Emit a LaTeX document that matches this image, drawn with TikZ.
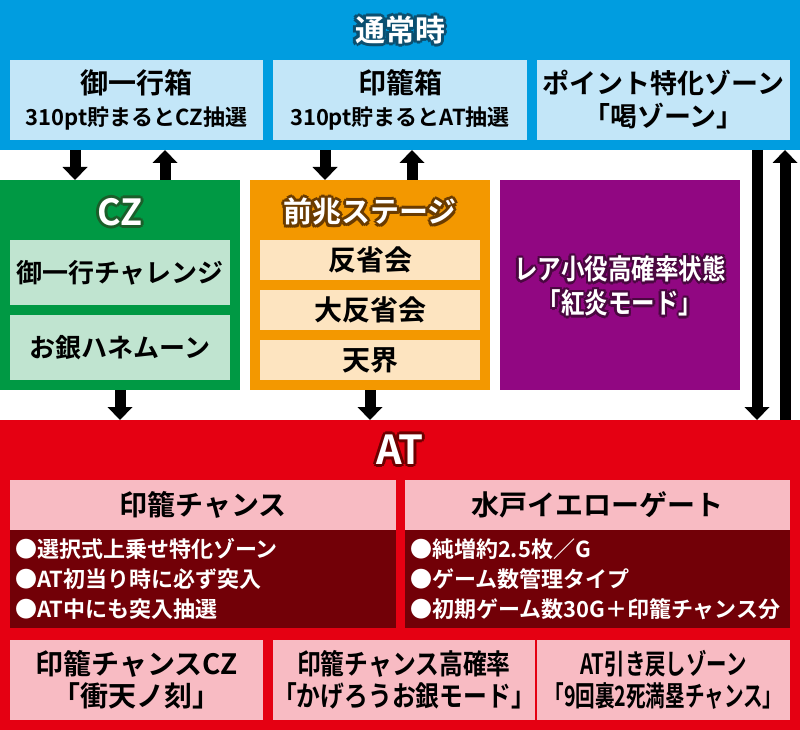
\documentclass[tikz,border=0pt]{standalone}
\usepackage{fontspec}
\setmainfont{Noto Sans CJK JP}[BoldFont=* Bold]
\usepackage{graphicx}
\usetikzlibrary{arrows.meta,calc}
\definecolor{cBlue}{HTML}{009DE0}
\definecolor{cLBlue}{HTML}{C3E6F8}
\definecolor{cBlueD}{HTML}{0B4F70}
\definecolor{cGreen}{HTML}{009944}
\definecolor{cLGreen}{HTML}{C0E4D0}
\definecolor{cGreenD}{HTML}{1B5E2A}
\definecolor{cOrange}{HTML}{F39800}
\definecolor{cLOrange}{HTML}{FDE4C0}
\definecolor{cOrangeD}{HTML}{6A3B00}
\definecolor{cPurple}{HTML}{910782}
\definecolor{cPurpleD}{HTML}{4A0740}
\definecolor{cRed}{HTML}{E50012}
\definecolor{cPink}{HTML}{F8BBC3}
\definecolor{cDRed}{HTML}{720007}
\definecolor{cRedD}{HTML}{6E0000}
\newcommand\fs[1]{\fontsize{#1}{#1}\selectfont}
% outlined title: dark copies around a white copy
% #1 name, #2 x, #3 y, #4 font size, #5 dark colour, #6 radius, #7 text
\newcommand\haloNode[7]{%
  \foreach \hA [count=\hi] in {0,45,...,315}{%
    \pgfmathsetmacro\hX{#2+#6*cos(\hA)}\pgfmathsetmacro\hY{#3+#6*sin(\hA)}%
    \node[ttl, text=#5, font=\bfseries\fs{#4}] (#1h\hi) at (\hX,\hY) {#7};}%
  \node[ttl, text=white, font=\bfseries\fs{#4}] (#1) at (#2,#3) {#7};}
\begin{document}
\begin{tikzpicture}[x=1pt,y=-1pt,
  box/.style={anchor=north west, inner sep=0pt, outer sep=0pt, align=center, font=\bfseries},
  sz/.style 2 args={minimum width=#1pt, minimum height=#2pt},
  ttl/.style={inner sep=0pt, align=center},
  arr/.style={line width=11pt, line cap=butt, -{Triangle[width=25pt,length=13pt,line width=0pt]}}]
\useasboundingbox (0,0) rectangle (800,730);
% normal state
\node[box, fill=cBlue, sz={800}{150}] (normal) at (0,0) {};
\haloNode{normalT}{400}{30}{30}{cBlueD}{3}{通常時}
\node[box, fill=cLBlue, sz={253}{80}, font=\bfseries\fs{28}] (hako1) at (10,60)
  {御一行箱\\[4pt]{\fs{22}310pt貯まるとCZ抽選}};
\node[box, fill=cLBlue, sz={254}{80}, font=\bfseries\fs{28}] (hako2) at (273,60)
  {印籠箱\\[4pt]{\fs{22}310pt貯まるとAT抽選}};
\node[box, fill=cLBlue, sz={253}{80}, font=\bfseries\fs{27}] (point) at (537,60)
  {ポイント特化ゾーン\\[6pt]「喝ゾーン」};
% CZ
\node[box, fill=cGreen, sz={240}{210}] (cz) at (0,180) {};
\haloNode{czT}{120}{212}{36}{cGreenD}{3}{CZ}
\node[box, fill=cLGreen, sz={220}{65}, font=\bfseries\fs{26}] (cz1) at (10,240) {御一行チャレンジ};
\node[box, fill=cLGreen, sz={220}{65}, font=\bfseries\fs{26}] (cz2) at (10,315) {お銀ハネムーン};
% zenchou
\node[box, fill=cOrange, sz={240}{210}] (pre) at (250,180) {};
\haloNode{preT}{370}{212}{29}{cOrangeD}{3}{前兆ステージ}
\node[box, fill=cLOrange, sz={220}{40}, font=\bfseries\fs{28}] (pre1) at (260,240) {反省会};
\node[box, fill=cLOrange, sz={220}{40}, font=\bfseries\fs{28}] (pre2) at (260,290) {大反省会};
\node[box, fill=cLOrange, sz={220}{40}, font=\bfseries\fs{28}] (pre3) at (260,340) {天界};
% rare
\node[box, fill=cPurple, sz={240}{210}] (rare) at (500,180) {};
\haloNode{rareT}{620}{286}{28}{cPurpleD}{2.5}{\scalebox{0.84}[1]{レア小役高確率状態}\\[6pt]\scalebox{0.84}[1]{「紅炎モード」}}
% AT
\node[box, fill=cRed, sz={800}{310}] (at) at (0,420) {};
\haloNode{atT}{400}{450}{40}{cRedD}{3}{AT}
\node[box, fill=cPink, sz={386}{50}, font=\bfseries\fs{28}] (inro) at (10,480) {印籠チャンス};
\node[box, fill=cDRed, sz={386}{98}, text=white, align=left, text width=376pt, font=\bfseries\fontsize{22}{30}\selectfont] (inroB) at (10,530)
  {●選択式上乗せ特化ゾーン\\●AT初当り時に必ず突入\\●AT中にも突入抽選};
\node[box, fill=cPink, sz={385}{50}, font=\bfseries\fs{28}] (mito) at (405,480) {水戸イエローゲート};
\node[box, fill=cDRed, sz={385}{98}, text=white, align=left, text width=375pt, font=\bfseries\fontsize{22}{30}\selectfont] (mitoB) at (405,530)
  {●純増約2.5枚／G\\●ゲーム数管理タイプ\\●初期ゲーム数30G＋印籠チャンス分};
\node[box, fill=cPink, sz={253}{80}, font=\bfseries\fs{28}] (b1) at (10,640)
  {印籠チャンスCZ\\[4pt]「衝天ノ刻」};
\node[box, fill=cPink, sz={253}{80}, font=\bfseries\fs{28}] (b2) at (273,640)
  {\scalebox{0.85}[1]{印籠チャンス高確率}\\[4pt]\scalebox{0.85}[1]{「かげろうお銀モード」}};
\node[box, fill=cPink, sz={253}{80}, font=\bfseries\fs{28}] (b3) at (537,640)
  {\scalebox{0.73}[1]{AT引き戻しゾーン}\\[4pt]\scalebox{0.70}[1]{「9回裏2死満塁チャンス」}};
% arrows
\draw[arr] (normal.south -| 75,0) -- (cz.north -| 75,0);
\draw[arr] (cz.north -| 165,0) -- (normal.south -| 165,0);
\draw[arr] (normal.south -| 325,0) -- (pre.north -| 325,0);
\draw[arr] (pre.north -| 412,0) -- (normal.south -| 412,0);
\draw[arr] (normal.south -| 757,0) -- (at.north -| 757,0);
\draw[arr] (at.north -| 785,0) -- (normal.south -| 785,0);
\draw[arr] (cz.south -| 120,0) -- (at.north -| 120,0);
\draw[arr] (pre.south -| 370,0) -- (at.north -| 370,0);
\end{tikzpicture}
\end{document}
